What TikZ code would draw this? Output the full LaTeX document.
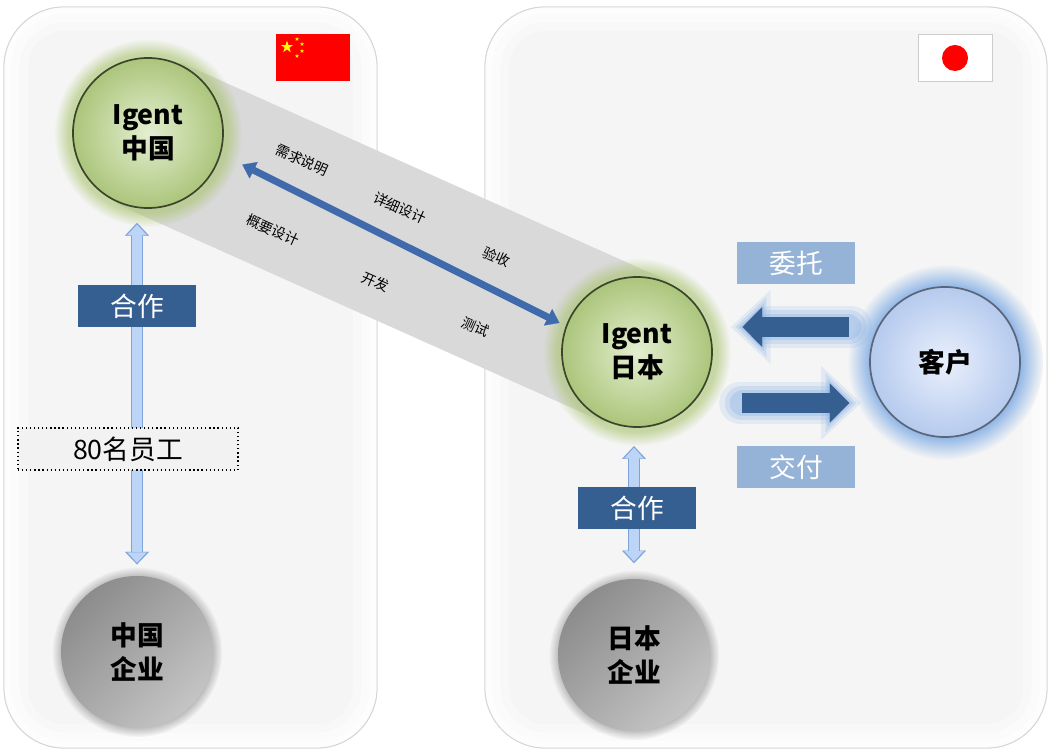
\documentclass[tikz,border=0pt]{standalone}
\usepackage{fontspec}
\newfontfamily\cjk{Noto Sans CJK SC}
\usetikzlibrary{arrows.meta,shapes.geometric,shadows,fadings,calc,backgrounds}

\definecolor{panelfill}{HTML}{F5F5F5}
\definecolor{paneledge}{HTML}{D4D4D4}
\definecolor{bandgray}{HTML}{D9D9D9}
\definecolor{steelblue}{HTML}{365F91}
\definecolor{paleblue}{HTML}{95B3D7}
\definecolor{linkblue}{HTML}{3F6AAC}
\definecolor{linkedge}{HTML}{7EA3D9}
\definecolor{linkfill}{HTML}{BCD4F6}
\definecolor{greenin}{HTML}{E4EFD0}
\definecolor{greenout}{HTML}{ABC57B}
\definecolor{greenglow}{HTML}{A9C46F}
\definecolor{bluein}{HTML}{EAF0FC}
\definecolor{blueout}{HTML}{B5CAEE}
\definecolor{blueglow}{HTML}{8DB4E6}
\definecolor{grayin}{HTML}{8C8C8C}
\definecolor{grayout}{HTML}{C4C4C4}
\definecolor{flagred}{HTML}{FF0000}
\definecolor{flagyellow}{HTML}{FFFF00}

\pgfdeclareradialshading{clientglow}{\pgfpoint{0bp}{0bp}}{color(0bp)=(blueglow);
	color(19bp)=(blueglow); color(25bp)=(panelfill); color(50bp)=(panelfill)}

\begin{document}
\begin{tikzpicture}
	[x=0.025cm,y=-0.025cm,
	panel/.style={rounded corners=1.5cm,fill=panelfill,draw=paneledge,line width=0.6pt},
	igent/.style={circle,minimum size=3.75cm,inner sep=0pt,align=center,
		inner color=greenin,outer color=greenout,draw=black!65!greenout,line width=1.2pt,
		circular glow={fill=greenglow,opacity=0.6},
		font=\cjk\fontsize{19}{24}\selectfont\bfseries},
	client/.style={circle,minimum size=3.75cm,inner sep=0pt,align=center,
		inner color=bluein,outer color=blueout,draw=black!50!blueout,line width=1.2pt,
		font=\cjk\fontsize{19}{24}\selectfont\bfseries},
	corp/.style={circle,minimum size=3.8cm,inner sep=0pt,align=center,
		top color=grayin,bottom color=grayout,shading angle=45,
		circular glow={fill=black,opacity=0.3,shadow scale=1.12},
		font=\cjk\fontsize{19}{24}\selectfont\bfseries},
	tagbox/.style={fill=steelblue,text=white,minimum width=2.95cm,minimum height=1.05cm,
		inner sep=0pt,font=\cjk\fontsize{19}{24}\selectfont},
	notebox/.style={tagbox,fill=paleblue},
	staffbox/.style={fill=black!5,draw=black,dotted,line width=0.9pt,minimum width=5.5cm,
		minimum height=1.05cm,inner sep=0pt,font=\cjk\fontsize{19}{24}\selectfont},
	phase/.style={rotate=-24,inner sep=1pt,font=\cjk\fontsize{10}{12}\selectfont},
	flag/.style={rectangle,minimum width=1.85cm,minimum height=1.175cm,inner sep=0pt},
	bigstar/.style={star,star points=5,star point ratio=2.6,fill=flagyellow,minimum size=0.32cm,inner sep=0pt},
	smallstar/.style={bigstar,minimum size=0.11cm},
	biglink/.style={draw=linkblue,line width=5pt,
		{Triangle[length=9pt,width=13pt,line width=0.1pt]}-{Triangle[length=9pt,width=13pt,line width=0.1pt]}},
	vlink/.style 2 args={draw=linkedge,line width=8.5pt,shorten <=#1,shorten >=#2,
		{Triangle[length=9pt,width=17pt,line width=0.1pt]}-{Triangle[length=9pt,width=17pt,line width=0.1pt]},
		postaction={draw=linkfill,line width=6.5pt,shorten <=#1+1.2pt,shorten >=#2+1.2pt,
		{Triangle[length=7.4pt,width=13.6pt,line width=0.1pt]}-{Triangle[length=7.4pt,width=13.6pt,line width=0.1pt]}}},
	blockarrow/.style 2 args={draw=steelblue,line width=14pt,shorten <=#1,shorten >=#2,
		-{Triangle[length=14pt,width=28pt,line width=0.1pt]},
		preaction={draw=blueglow,opacity=0.18,line width=30pt,line cap=round,shorten <=#1-1pt,shorten >=#2-8pt,
			-{Triangle[length=28pt,width=52pt,line width=0.1pt,round]}},
		preaction={draw=blueglow,opacity=0.25,line width=24pt,line cap=round,shorten <=#1,shorten >=#2-5pt,
			-{Triangle[length=22pt,width=42pt,line width=0.1pt,round]}},
		preaction={draw=blueglow,opacity=0.35,line width=19pt,line cap=round,shorten <=#1+1pt,shorten >=#2-2.5pt,
			-{Triangle[length=18pt,width=34pt,line width=0.1pt,round]}}}]
	\useasboundingbox (0,0) rectangle (1051,753);
	
	% circles
	\node[igent] (igcn) at (148,133) {Igent\\中国};
	\node[igent] (igjp) at (637,352) {Igent\\日本};
	\node[client] (kehu) at (945,362) {客户};
	\node[corp] (cncorp) at (137,652) {中国\\企业};
	\node[corp] (jpcorp) at (634,655) {日本\\企业};
	
	\begin{pgfonlayer}{background}
		\fill[white] (0,0) rectangle (1051,753);
		\foreach \xa/\xb in {4/377,485/1047}{
			\draw[panel] (\xa,7) rectangle (\xb,748);
			\begin{scope}
				\clip[rounded corners=1.5cm] (\xa,7) rectangle (\xb,748);
				\draw[white,opacity=0.35,line width=34pt,rounded corners=1.5cm] (\xa,7) rectangle (\xb,748);
				\draw[white,opacity=0.45,line width=22pt,rounded corners=1.5cm] (\xa,7) rectangle (\xb,748);
				\draw[white,opacity=0.6,line width=10pt,rounded corners=1.5cm] (\xa,7) rectangle (\xb,748);
			\end{scope}
			\draw[paneledge,line width=0.6pt,rounded corners=1.5cm] (\xa,7) rectangle (\xb,748);
		}
		\fill[bandgray] ($(igcn.center)!1.94cm!90:(igjp.center)$) -- ($(igjp.center)!1.94cm!-90:(igcn.center)$)
			-- ($(igjp.center)!1.94cm!90:(igcn.center)$) -- ($(igcn.center)!1.94cm!-90:(igjp.center)$) -- cycle;
		\shade[shading=clientglow] (kehu.center) circle (98);
	\end{pgfonlayer}
	
	% flags
	\node[flag,fill=flagred] (cnflag) at (313,57.5) {};
	\node[bigstar] (star0) at (287,47) {};
	\foreach \sx/\sy [count=\i] in {297/39,302/44,302/51,297/56}
		\node[smallstar] (star\i) at (\sx,\sy) {};
	\node[flag,fill=white,draw=black!20] (jpflag) at (955,58) {};
	\node[circle,fill=flagred,minimum size=0.65cm,inner sep=0pt] (sun) at (jpflag) {};
	
	% phases along the band
	\node[phase] (req) at (302,160) {需求说明};
	\node[phase] (detail) at (400,208) {详细设计};
	\node[phase] (accept) at (497,257) {验收};
	\node[phase] (outline) at (273,230) {概要设计};
	\node[phase] (dev) at (376,282) {开发};
	\node[phase] (test) at (476,327) {测试};
	
	\draw[biglink,shorten <=17pt,shorten >=5pt] (igcn.-16) -- (igjp.160);
	
	\draw[vlink={10pt}{8pt}] (cncorp.north |- igcn.south) -- (cncorp.north);
	\draw[vlink={13pt}{11pt}] (jpcorp.north |- igjp.south) -- (jpcorp.north);
	
	\node[tagbox] (cnco) at (137,306) {合作};
	\node[tagbox] (jpco) at (637,508) {合作};
	\node[staffbox] (staff) at (128,449) {80名员工};
	
	\coordinate (upper) at (0,327);
	\coordinate (lower) at (0,403);
	\draw[blockarrow={14pt}{21pt}] (kehu.west |- upper) -- (igjp.east |- upper);
	\draw[blockarrow={20.5pt}{14pt}] (igjp.east |- lower) -- (kehu.west |- lower);
	\node[notebox] (entrust) at (796,263) {委托};
	\node[notebox] (deliver) at (796,467) {交付};
\end{tikzpicture}
\end{document}
